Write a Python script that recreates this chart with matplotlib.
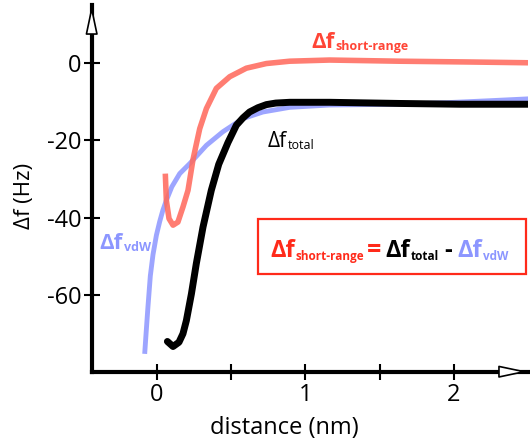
import matplotlib
matplotlib.use("Agg")
import matplotlib.pyplot as plt
from matplotlib.patches import Rectangle

plt.rcParams["font.family"] = ["Open Sans", "DejaVu Sans"]
plt.rcParams["axes.unicode_minus"] = False

# values (distance in nm, df in Hz)
total_x = [0.070, 0.108, 0.148, 0.175, 0.198, 0.232, 0.265, 0.310, 0.366, 0.416,
           0.478, 0.535, 0.580, 0.624, 0.680, 0.737, 0.800, 0.894, 1.163, 1.634,
           2.040, 2.500]
total_y = [-71.9, -73.2, -72.1, -69.9, -66.5, -59.6, -51.8, -42.4, -32.9, -26.2,
           -20.6, -16.1, -14.2, -12.7, -11.6, -10.8, -10.4, -10.2, -10.2, -10.5,
           -10.7, -10.7]

short_x = [0.056, 0.063, 0.081, 0.108, 0.141, 0.175, 0.209, 0.242, 0.265, 0.288,
           0.333, 0.400, 0.490, 0.602, 0.737, 0.894, 1.163, 1.634, 2.100, 2.500]
short_y = [-28.6, -35.5, -40.2, -41.9, -41.1, -37.2, -32.9, -25.1, -21.0, -17.0,
           -11.8, -6.6, -3.6, -1.4, -0.2, 0.4, 0.7, 0.4, 0.2, 0.0]

vdw_x = [-0.083, -0.073, -0.061, -0.045, -0.027, -0.004, 0.018, 0.040, 0.063, 0.100,
         0.153, 0.221, 0.333, 0.444, 0.579, 0.714, 0.894, 1.163, 1.634, 1.950,
         2.240, 2.510]
vdw_y = [-75.1, -69.5, -63.0, -55.0, -49.5, -44.5, -41.0, -38.0, -35.5, -32.0,
         -28.6, -26.0, -21.3, -17.8, -14.4, -12.7, -11.5, -10.9, -10.7, -10.3,
         -9.8, -9.3]

x_ticks = [0, 1, 2]
x_minor = [0.5, 1.5]
y_ticks = [0, -20, -40, -60]

RED_LINE = "#FF6B5E"
RED_TEXT = "#FF4536"
RED_BOX = "#FF2A1A"
BLUE = "#8C96FF"

fig = plt.figure(figsize=(5.3, 4.46), dpi=100)
ax = fig.add_axes([91.7 / 530, 74.3 / 446, 436.3 / 530, 366.7 / 446])
ax.set_xlim(-0.44, 2.50)
ax.set_ylim(-79.7, 14.9)

ax.plot(vdw_x, vdw_y, color=BLUE, lw=3.5, alpha=0.85, solid_capstyle="butt",
        solid_joinstyle="round")
ax.plot(short_x, short_y, color=RED_LINE, lw=4.0, alpha=0.88, solid_capstyle="butt",
        solid_joinstyle="round")
ax.plot(total_x, total_y, color="black", lw=5.0, solid_capstyle="round",
        solid_joinstyle="round")

# axes with arrow heads
for side in ["top", "right"]:
    ax.spines[side].set_visible(False)
for side in ["left", "bottom"]:
    ax.spines[side].set_linewidth(3)
    ax.spines[side].set_color("black")

head = dict(arrowstyle="-|>,head_length=1.8,head_width=0.38", lw=1.2,
            fc="white", ec="black", shrinkA=0, shrinkB=0, mutation_scale=10)
ax.annotate("", xy=(1.0, 0), xytext=(0.93, 0), xycoords="axes fraction",
            arrowprops=head, annotation_clip=False)
ax.annotate("", xy=(0, 1.0), xytext=(0, 0.92), xycoords="axes fraction",
            arrowprops=head, annotation_clip=False)

ax.set_xticks(x_ticks)
ax.set_xticks(x_minor, minor=True)
ax.set_yticks(y_ticks)
ax.set_yticklabels([str(v) for v in y_ticks])
ax.tick_params(axis="x", which="both", direction="inout", length=12, width=1.5,
               labelsize=17, pad=2)
ax.tick_params(axis="y", direction="inout", length=11, width=1.5,
               labelsize=17, pad=2)

ax.set_xlabel("distance (nm)", fontsize=17, va="top")
ax.xaxis.set_label_coords(0.441, -0.12)
ax.set_ylabel("Δf (Hz)", fontsize=16, va="center")
ax.yaxis.set_label_coords(-0.153, 0.479)


def sub_label(x, y, main, sub, color, size, subsize, weight):
    t = ax.text(x, y, main, color=color, fontsize=size, fontweight=weight,
                ha="left", va="baseline")
    ax.annotate(sub, xy=(1, 0), xycoords=t, xytext=(0.5, 0),
                textcoords="offset points", ha="left", va="bottom",
                color=color, fontsize=subsize, fontweight=weight)
    return t


sub_label(1.042, 3.7, "Δf", "short-range", RED_TEXT, 16, 9, "bold")
sub_label(0.745, -21.8, "Δf", "total", "black", 15, 9, "normal")
sub_label(-0.386, -48.0, "Δf", "vdW", BLUE, 16, 9, "bold")

# equation box
ax.add_patch(Rectangle((0.680, -54.6), 1.808, 14.4, fill=False, ec=RED_BOX,
                       lw=1.6, clip_on=False))
pieces = [
    ("Δf", RED_BOX, 17, 0),
    ("short-range", RED_BOX, 8.5, 0.5),
    ("=", RED_BOX, 18, 1.5),
    ("Δf", "black", 17, 3),
    ("total", "black", 8.5, 0.5),
    ("-", "black", 17, 4),
    ("Δf", BLUE, 17, 4),
    ("vdW", BLUE, 8.5, 0.5),
]
first = ax.text(0.766, -50.1, pieces[0][0], color=pieces[0][1], fontsize=pieces[0][2],
                fontweight="bold", ha="left", va="baseline")
prev = first
for text, color, size, gap in pieces[1:]:
    prev = ax.annotate(text, xy=(1, 0), xycoords=(prev, first), xytext=(gap, 0),
                       textcoords="offset points", ha="left", va="bottom",
                       color=color, fontsize=size, fontweight="bold")

fig.savefig("out.png", dpi=100, facecolor="white")
